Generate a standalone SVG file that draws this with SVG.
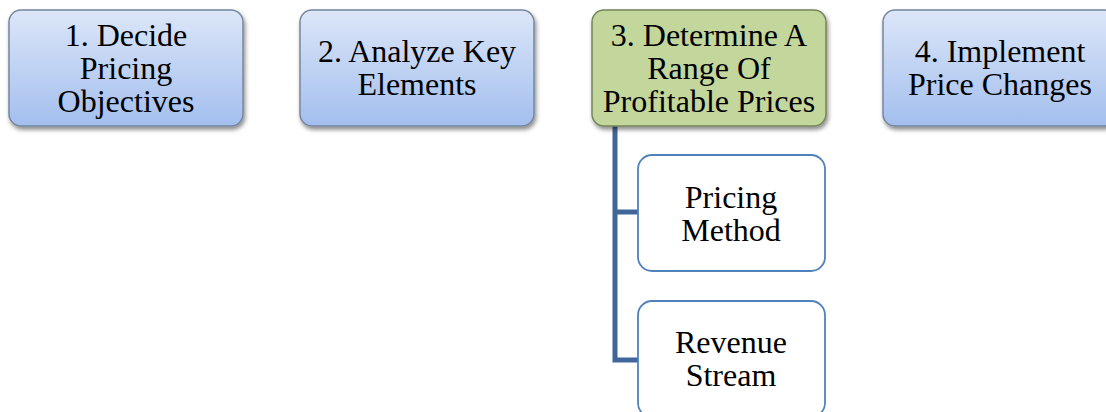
<svg xmlns="http://www.w3.org/2000/svg" width="1106" height="412" viewBox="0 0 1106 412">
<defs>
<linearGradient id="blueGrad" x1="0" y1="0" x2="0" y2="1">
<stop offset="0" stop-color="#DCE6F8"/>
<stop offset="1" stop-color="#A3BFEE"/>
</linearGradient>
<filter id="shadow" x="-10%" y="-10%" width="125%" height="130%">
<feDropShadow dx="1.5" dy="3" stdDeviation="2" flood-color="#000" flood-opacity="0.45"/>
</filter>
<style>
.top{fill:url(#blueGrad);stroke:#76869E;stroke-width:1.5;filter:url(#shadow)}
.green{fill:#C3D69B;stroke:#74845A;stroke-width:1.5;filter:url(#shadow)}
.sub{fill:#FFFFFF;stroke:#4F81BD;stroke-width:1.8}
.lbl{font-family:"Liberation Serif","Times New Roman",serif;font-size:32px;fill:#000;text-anchor:middle}
.conn{fill:none;stroke:#41679A;stroke-width:5;stroke-linejoin:miter}
</style>
</defs>
<g id="connectors">
<path class="conn" d="M615,126 V360 H638 M615,212 H638"/>
</g>
<g id="node1">
<rect class="top" x="9" y="10" width="234" height="116" rx="12"/>
<text class="lbl" x="126" y="46">1. Decide</text>
<text class="lbl" x="126" y="79">Pricing</text>
<text class="lbl" x="126" y="112">Objectives</text>
</g>
<g id="node2">
<rect class="top" x="300" y="10" width="234" height="116" rx="12"/>
<text class="lbl" x="417" y="62">2. Analyze Key</text>
<text class="lbl" x="417" y="95">Elements</text>
</g>
<g id="node3">
<rect class="green" x="592" y="10" width="234" height="116" rx="12"/>
<text class="lbl" x="709" y="46">3. Determine A</text>
<text class="lbl" x="709" y="79">Range Of</text>
<text class="lbl" x="709" y="112">Profitable Prices</text>
</g>
<g id="node4">
<rect class="top" x="883" y="10" width="234" height="116" rx="12"/>
<text class="lbl" x="1000" y="62">4. Implement</text>
<text class="lbl" x="1000" y="95">Price Changes</text>
</g>
<g id="node5">
<rect class="sub" x="638" y="155" width="187" height="116" rx="14"/>
<text class="lbl" x="731" y="208">Pricing</text>
<text class="lbl" x="731" y="241">Method</text>
</g>
<g id="node6">
<rect class="sub" x="638" y="301" width="187" height="116" rx="14"/>
<text class="lbl" x="731" y="353">Revenue</text>
<text class="lbl" x="731" y="386">Stream</text>
</g>
</svg>
